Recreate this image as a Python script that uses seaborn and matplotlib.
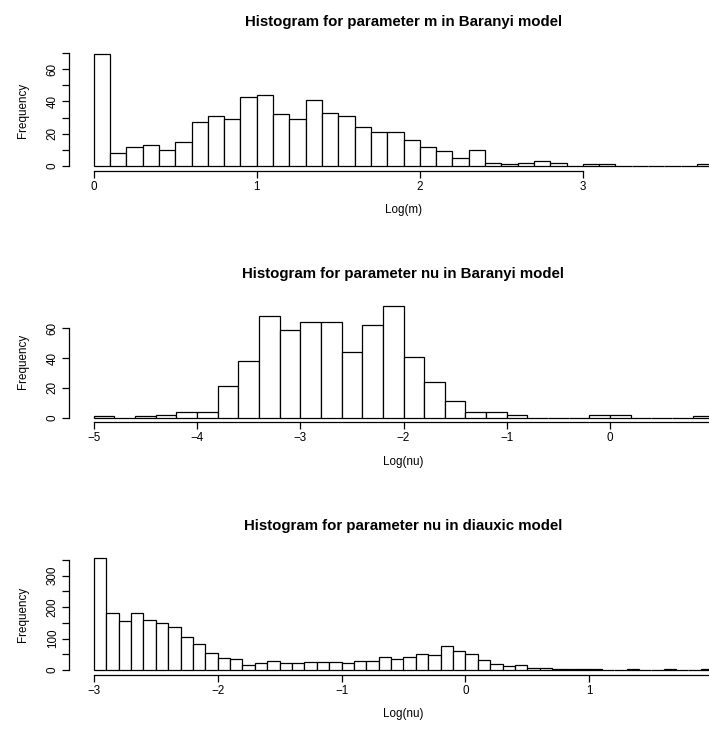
import numpy as np
import pandas as pd
import matplotlib
matplotlib.use("Agg")
import matplotlib.pyplot as plt
import seaborn as sns

# Bin counts for log(m), Baranyi model: bins of width 0.1 starting at 0
m_start, m_width = 0.0, 0.1
m_counts = [69, 8, 12, 13, 10, 15, 27, 31, 29, 43, 44, 32, 29, 41, 33, 31,
            24, 21, 21, 16, 12, 9, 5, 10, 2, 1, 2, 3, 2, 0, 1, 1, 0, 0, 0,
            0, 0, 1]

# Bin counts for log(nu), Baranyi model: bins of width 0.2 starting at -5
nu_b_start, nu_b_width = -5.0, 0.2
nu_b_counts = [1, 0, 1, 2, 4, 4, 21, 38, 68, 59, 64, 64, 44, 62, 75, 41,
               24, 11, 4, 4, 2, 0, 0, 0, 2, 2, 0, 0, 0, 1]

# Bin counts for log(nu), diauxic model: bins of width 0.1 starting at -3
nu_d_start, nu_d_width = -3.0, 0.1
nu_d_counts = [355, 182, 155, 183, 158, 151, 136, 105, 84, 55, 37, 34, 16,
               21, 28, 21, 21, 24, 24, 24, 21, 28, 28, 43, 36, 40, 52, 48,
               78, 60, 51, 33, 18, 13, 15, 8, 5, 4, 3, 2, 4, 1, 1, 4, 1, 1,
               2, 1, 1, 2]

titles = ["Histogram for parameter m in Baranyi model",
          "Histogram for parameter nu in Baranyi model",
          "Histogram for parameter nu in diauxic model"]
xlabels = ["Log(m)", "Log(nu)", "Log(nu)"]
xticks = [[0, 1, 2, 3], [-5, -4, -3, -2, -1, 0], [-3, -2, -1, 0, 1]]
xaxis_ends = [(0, 3), (-5, 1), (-3, 2)]
# labelled y ticks, and all y tick marks (some left unlabelled)
ylabels_at = [[0, 20, 40, 60], [0, 20, 40, 60], [0, 100, 200, 300]]
ymarks_at = [[0, 10, 20, 30, 40, 50, 60, 70], [0, 20, 40, 60],
             [0, 50, 100, 150, 200, 250, 300, 350]]

sns.set_style("ticks")
plt.rcParams["font.family"] = ["Liberation Sans", "DejaVu Sans"]
plt.rcParams["text.color"] = "black"
plt.rcParams["axes.labelcolor"] = "black"

W, H = 709, 731
fig = plt.figure(figsize=(W / 100, H / 100), dpi=100)

panels = [(m_start, m_width, m_counts),
          (nu_b_start, nu_b_width, nu_b_counts),
          (nu_d_start, nu_d_width, nu_d_counts)]
tops = [50, 301.5, 554]
left_px, width_px, height_px = 69, 669, 120.5

for i, (start, width, counts) in enumerate(panels):
    counts = [float(c) for c in counts]
    n = len(counts)
    edges = [round(start + width * k, 6) for k in range(n + 1)]
    df = pd.DataFrame({"x": [e + width / 2 for e in edges[:-1]],
                       "count": counts})

    top = tops[i]
    ax = fig.add_axes([left_px / W, 1 - (top + height_px) / H,
                       width_px / W, height_px / H])
    sns.histplot(data=df, x="x", weights="count", bins=edges, ax=ax,
                 stat="count", color="white", edgecolor="black",
                 linewidth=0.9, alpha=1)

    # R-style 4% padding around the bin range and the tallest bar
    span = edges[-1] - edges[0]
    ymax = max(counts)
    ax.set_xlim(edges[0] - 0.04 * span, edges[-1] + 0.04 * span)
    ax.set_ylim(-0.04 * ymax, ymax * 1.04)

    ax.set_xticks(xticks[i])
    ax.set_xticklabels([str(t).replace("-", "\u2212") for t in xticks[i]])
    ax.set_yticks(ylabels_at[i])
    ax.set_yticklabels([str(t) for t in ylabels_at[i]], rotation=90,
                       va="center")
    minor = [t for t in ymarks_at[i] if t not in ylabels_at[i]]
    ax.set_yticks(minor, minor=True)

    for s in ["top", "right"]:
        ax.spines[s].set_visible(False)
    ax.spines["left"].set_bounds(ymarks_at[i][0], ymarks_at[i][-1])
    ax.spines["bottom"].set_bounds(*xaxis_ends[i])
    for s in ["left", "bottom"]:
        ax.spines[s].set_linewidth(0.9)
        ax.spines[s].set_color("black")

    ax.tick_params(axis="both", which="both", length=5.3, width=0.9,
                   color="black", labelsize=8.4, labelcolor="black")
    ax.tick_params(axis="x", pad=2)
    ax.tick_params(axis="y", pad=2)
    ax.set_title(titles[i], fontsize=10.8, fontweight="bold", pad=17,
                 color="black")
    ax.set_xlabel(xlabels[i], fontsize=8.4, labelpad=8.5)
    ax.set_ylabel("Frequency", fontsize=8.4, labelpad=13)
    ax.grid(False)

fig.savefig("out.png", dpi=100)
